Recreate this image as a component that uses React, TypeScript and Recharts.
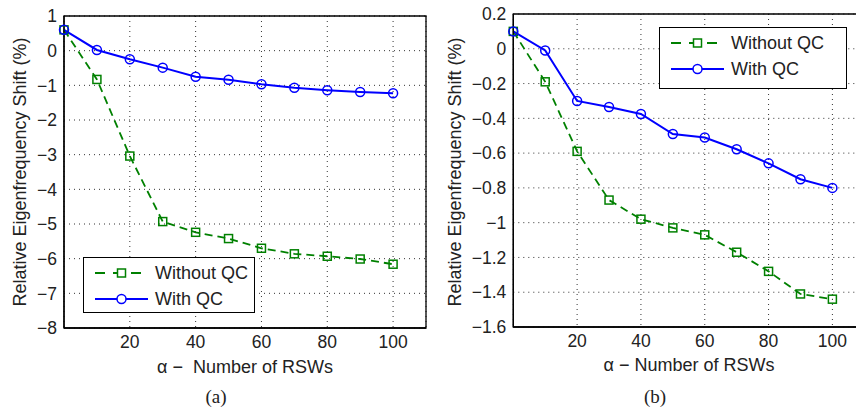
import React from 'react';
import {
  LineChart,
  Line,
  XAxis,
  YAxis,
  CartesianGrid,
  ReferenceArea,
  Legend,
} from 'recharts';

const alpha = [0, 10, 20, 30, 40, 50, 60, 70, 80, 90, 100];
const xTicks = [20, 40, 60, 80, 100];

// panel (a)
const withoutQcA = [0.6, -0.83, -3.04, -4.93, -5.24, -5.42, -5.7, -5.86, -5.93, -6.01, -6.16];
const withQcA = [0.6, 0.02, -0.25, -0.49, -0.75, -0.84, -0.97, -1.07, -1.14, -1.19, -1.23];
const yTicksA = [1, 0, -1, -2, -3, -4, -5, -6, -7, -8];

// panel (b)
const withoutQcB = [0.1, -0.19, -0.59, -0.87, -0.98, -1.03, -1.07, -1.17, -1.28, -1.41, -1.44];
const withQcB = [0.1, -0.01, -0.3, -0.335, -0.375, -0.49, -0.51, -0.578, -0.659, -0.75, -0.8];
const yTicksB = [0.2, 0, -0.2, -0.4, -0.6, -0.8, -1, -1.2, -1.4, -1.6];

const GREEN = '#008000';
const BLUE = '#0000ff';
const FONT = '"Liberation Sans", Arial, Helvetica, sans-serif';

const fmt = (v: number) => (v < 0 ? '\u2212' + String(Math.abs(v)) : String(v));

const buildRows = (a: number[], b: number[]) =>
  alpha.map((x, i) => ({ x, without: a[i], with: b[i] }));

const SquareDot = (props: any) => {
  const { cx, cy, index } = props;
  if (cx == null || cy == null) return null;
  return (
    <rect key={'sq' + index} x={cx - 4} y={cy - 4} width={8} height={8}
      fill="none" stroke={GREEN} strokeWidth={1.5} />
  );
};

const LegendBox = ({ w, h, fontSize }: { w: number; h: number; fontSize: number }) => (
  <div style={{
    width: w, height: h, boxSizing: 'border-box', border: '1.5px solid #000',
    background: '#fff', fontFamily: FONT, fontSize, color: '#222', position: 'relative',
  }}>
    {[0, 1].map((i) => (
      <div key={i} style={{ position: 'absolute', left: 10, top: i === 0 ? 3 : 29, height: 24, display: 'flex', alignItems: 'center' }}>
        <svg width={56} height={20} style={{ marginRight: 5 }}>
          {i === 0 ? (
            <>
              <line x1={1} y1={10} x2={54} y2={10} stroke={GREEN} strokeWidth={1.8} strokeDasharray="10 8" />
              <rect x={23.5} y={6} width={8} height={8} fill="#fff" stroke={GREEN} strokeWidth={1.5} />
            </>
          ) : (
            <>
              <line x1={1} y1={10} x2={54} y2={10} stroke={BLUE} strokeWidth={2} />
              <circle cx={27.5} cy={10} r={4.5} fill="#fff" stroke={BLUE} strokeWidth={1.5} />
            </>
          )}
        </svg>
        <span>{i === 0 ? 'Without QC' : 'With QC'}</span>
      </div>
    ))}
  </div>
);

const Panel = ({ rows, yTicks, width, margin, legendPos }: any) => {
  const yMin = yTicks[yTicks.length - 1];
  const yMax = yTicks[0];
  return (
    <LineChart width={width} height={411} data={rows} margin={margin}>
      <CartesianGrid stroke="#333" strokeDasharray="1 4" strokeWidth={1} />
      <ReferenceArea x1={0} x2={110} y1={yMin} y2={yMax} fill="none" stroke="#000"
        strokeWidth={1.3} ifOverflow="visible" />
      <XAxis dataKey="x" type="number" domain={[0, 110]} ticks={xTicks} height={40}
        axisLine={{ stroke: '#000', strokeWidth: 1.3 }} tickLine={false} tickSize={0} tickMargin={8}
        tick={{ fill: '#222', fontSize: 17.5, fontFamily: FONT }} />
      <YAxis type="number" domain={[yMin, yMax]} ticks={yTicks} width={50} interval={0}
        axisLine={{ stroke: '#000', strokeWidth: 1.3 }} tickLine={false} tickSize={0} tickMargin={7}
        tickFormatter={fmt} tick={{ fill: '#222', fontSize: 17.5, fontFamily: FONT }} />
      <Legend layout="horizontal" verticalAlign="middle" wrapperStyle={legendPos}
        content={() => <LegendBox w={legendPos.width} h={legendPos.height} fontSize={18} />} />
      <Line dataKey="without" stroke={GREEN} strokeWidth={1.8} strokeDasharray="8 5"
        dot={SquareDot} isAnimationActive={false} type="linear" />
      <Line dataKey="with" stroke={BLUE} strokeWidth={2}
        dot={{ r: 4.5, fill: 'none', stroke: BLUE, strokeWidth: 1.5 }} isAnimationActive={false} type="linear" />
    </LineChart>
  );
};

const txt: React.CSSProperties = {
  position: 'absolute', fontFamily: FONT, fontSize: 18, color: '#222', whiteSpace: 'pre',
};

export default function App() {
  return (
    <div style={{ position: 'absolute', left: 0, top: 0, width: 856, height: 411, overflow: 'hidden', background: '#fff' }}>
      <div style={{ position: 'absolute', left: 0, top: 0 }}>
        <Panel rows={buildRows(withoutQcA, withQcA)} yTicks={yTicksA} width={430}
          margin={{ top: 16, right: 4, bottom: 43, left: 14 }}
          legendPos={{ left: 83, top: 257, width: 172, height: 56 }} />
      </div>
      <div style={{ position: 'absolute', left: 430, top: 0 }}>
        <Panel rows={buildRows(withoutQcB, withQcB)} yTicks={yTicksB} width={440}
          margin={{ top: 14, right: 5.7, bottom: 44, left: 33.3 }}
          legendPos={{ left: 229, top: 27, width: 188, height: 62 }} />
      </div>

      <div style={{ ...txt, left: 20, top: 172, transform: 'translate(-50%, -50%) rotate(-90deg)' }}>
        Relative Eigenfrequency Shift (%)
      </div>
      <div style={{ ...txt, left: 455, top: 172, transform: 'translate(-50%, -50%) rotate(-90deg)' }}>
        Relative Eigenfrequency Shift (%)
      </div>
      <div style={{ ...txt, left: 245, top: 367, transform: 'translate(-50%, -50%)' }}>{'\u03b1 \u2212  Number of RSWs'}</div>
      <div style={{ ...txt, left: 689, top: 365, transform: 'translate(-50%, -50%)' }}>{'\u03b1 \u2212 Number of RSWs'}</div>
      <div style={{ ...txt, fontFamily: '"Liberation Serif", "Times New Roman", serif', fontSize: 19, left: 216, top: 397, transform: 'translate(-50%, -50%)' }}>(a)</div>
      <div style={{ ...txt, fontFamily: '"Liberation Serif", "Times New Roman", serif', fontSize: 19, left: 655, top: 397, transform: 'translate(-50%, -50%)' }}>(b)</div>
    </div>
  );
}
